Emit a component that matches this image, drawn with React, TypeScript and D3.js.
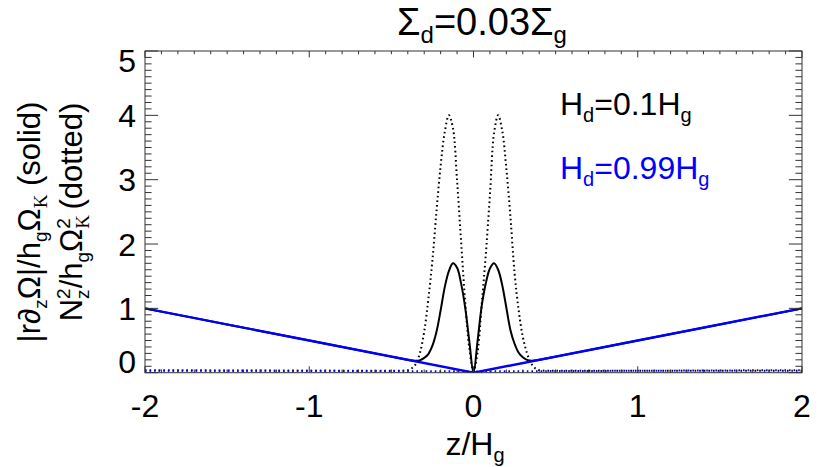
import React from "react";
import * as d3 from "d3";

// z/Hg sample positions
const zPts = [
  -2, -1.5, -1, -0.5, -0.45, -0.4, -0.375, -0.35, -0.325, -0.3, -0.275, -0.25, -0.225, -0.2, -0.175,
  -0.15, -0.125, -0.1, -0.075, -0.05, -0.025, 0, 0.025, 0.05, 0.075, 0.1, 0.125, 0.15, 0.175, 0.2,
  0.225, 0.25, 0.275, 0.3, 0.325, 0.35, 0.375, 0.4, 0.45, 0.5, 1, 1.5, 2,
];
// Hd = 0.1 Hg, |r dz Omega| (solid)
const shearThin = [
  1.0, 0.75, 0.5, 0.25, 0.225, 0.2, 0.19, 0.185, 0.195, 0.23, 0.29, 0.42, 0.64, 0.97, 1.33,
  1.58, 1.7, 1.63, 1.38, 1.0, 0.48, 0.0, 0.5, 1.04, 1.39, 1.62, 1.7, 1.6, 1.36, 1.01,
  0.66, 0.45, 0.31, 0.24, 0.2, 0.185, 0.19, 0.2, 0.225, 0.25, 0.5, 0.75, 1.0,
];
// Hd = 0.1 Hg, Nz^2 (dotted)
const buoyThin = [
  0.03, 0.03, 0.03, 0.03, 0.03, 0.04, 0.07, 0.14, 0.32, 0.64, 1.14, 1.75, 2.52, 3.22, 3.74,
  4.0, 3.8, 2.98, 2.02, 1.08, 0.37, 0.02, 0.32, 1.06, 1.84, 2.76, 3.72, 4.0, 3.76, 3.17,
  2.42, 1.55, 0.97, 0.56, 0.31, 0.15, 0.07, 0.04, 0.03, 0.03, 0.03, 0.03, 0.03,
];
// Hd = 0.99 Hg
const zThick = [-2, -1, 0, 1, 2];
const shearThick = [1.0, 0.5, 0.0, 0.5, 1.0];
const buoyThick = [0.04, 0.03, 0.02, 0.03, 0.04];

const xTicks = [-2, -1, 0, 1, 2];
const yTicks = [0, 1, 2, 3, 4, 5];

const W = 830;
const H = 467;
const m = { left: 145, right: 802, top: 51, bottom: 372.7 };
const FONT = "'Liberation Sans', Arial, Helvetica, sans-serif";

const App = () => {
  const x = d3.scaleLinear().domain([-2, 2]).range([m.left, m.right]);
  const y = d3.scaleLinear().domain([0, 5]).range([m.bottom, m.top]);
  const smooth = d3
    .line<[number, number]>()
    .x((d) => x(d[0]))
    .y((d) => y(d[1]))
    .curve(d3.curveCatmullRom.alpha(0.5));
  const straight = d3
    .line<[number, number]>()
    .x((d) => x(d[0]))
    .y((d) => y(d[1]));
  const pairs = (zs: number[], vs: number[]) => zs.map((z, i) => [z, vs[i]] as [number, number]);

  const plotH = m.bottom - m.top;
  const plotW = m.right - m.left;
  const xMaj = 0.02 * plotH;
  const yMaj = 0.02 * plotW;
  const xMinor = d3.range(-20, 21).map((i) => i / 10);
  const yMinor = d3.range(0, 51).map((i) => i / 10);
  const axisColor = "#333";

  return (
    <svg width={W} height={H} style={{ display: "block", position: "absolute", left: 0, top: 0 }} fontFamily={FONT}>
      <rect width={W} height={H} fill="#fff" />
      <defs>
        <clipPath id="plot">
          <rect x={m.left} y={m.top} width={plotW} height={plotH} />
        </clipPath>
      </defs>

      <g clipPath="url(#plot)" fill="none">
        <path d={smooth(pairs(zPts, shearThin)) || ""} stroke="#000" strokeWidth={2} />
        <path d={smooth(pairs(zPts, buoyThin)) || ""} stroke="#000" strokeWidth={2} strokeDasharray="1.6 3" />
        <path d={straight(pairs(zThick, shearThick)) || ""} stroke="#0000ff" strokeWidth={2.4} />
        <path d={straight(pairs(zThick, buoyThick)) || ""} stroke="#0000ff" strokeWidth={2} strokeDasharray="1.6 3" />
      </g>

      {/* frame and ticks */}
      <g stroke={axisColor} strokeWidth={1} fill="none">
        <rect x={m.left} y={m.top} width={plotW} height={plotH} />
        {xMinor.map((t, i) => {
          const len = Math.abs(t - Math.round(t)) < 1e-9 ? xMaj : xMaj / 2;
          return (
            <g key={"xt" + i}>
              <line x1={x(t)} x2={x(t)} y1={m.bottom} y2={m.bottom - len} />
              <line x1={x(t)} x2={x(t)} y1={m.top} y2={m.top + len} />
            </g>
          );
        })}
        {yMinor.map((t, i) => {
          const len = Math.abs(t - Math.round(t)) < 1e-9 ? yMaj : yMaj / 2;
          return (
            <g key={"yt" + i}>
              <line x1={m.left} x2={m.left + len} y1={y(t)} y2={y(t)} />
              <line x1={m.right} x2={m.right - len} y1={y(t)} y2={y(t)} />
            </g>
          );
        })}
      </g>

      {/* tick labels */}
      <g fontSize={32} fill="#000">
        {xTicks.map((t) => (
          <text key={"xl" + t} x={x(t)} y={417} textAnchor="middle">
            {t}
          </text>
        ))}
        {yTicks.map((t) => {
          let by = y(t) + 11.5;
          if (t === 5) by = m.top + 21;
          if (t === 0) by = m.bottom;
          return (
            <text key={"yl" + t} x={136} y={by} textAnchor="end">
              {t}
            </text>
          );
        })}
      </g>

      {/* title */}
      <text x={482} y={34.5} textAnchor="middle" fontSize={38}>
        Σ<tspan fontSize={24} dy={8}>d</tspan>
        <tspan dy={-8}>=0.03Σ</tspan>
        <tspan fontSize={24} dy={8}>g</tspan>
      </text>

      {/* x title */}
      <text x={475} y={455} textAnchor="middle" fontSize={32}>
        z/H<tspan fontSize={20} dy={7}>g</tspan>
      </text>

      {/* legend */}
      <text x={560} y={114.5} fontSize={32} fill="#000">
        H<tspan fontSize={20} dy={7}>d</tspan>
        <tspan dy={-7}>=0.1H</tspan>
        <tspan fontSize={20} dy={7}>g</tspan>
      </text>
      <text x={560} y={178.5} fontSize={32} fill="#0000ff">
        H<tspan fontSize={20} dy={7}>d</tspan>
        <tspan dy={-7}>=0.99H</tspan>
        <tspan fontSize={20} dy={7}>g</tspan>
      </text>

      {/* y titles */}
      <text transform="translate(40,222) rotate(-90)" textAnchor="middle" fontSize={31}>
        |r∂<tspan fontSize={19} dy={7}>z</tspan>
        <tspan dy={-7}>Ω|/h</tspan>
        <tspan fontSize={19} dy={7}>g</tspan>
        <tspan dy={-7}>Ω</tspan>
        <tspan fontSize={19} dy={7} fontFamily="'Liberation Serif', serif">K</tspan>
        <tspan dy={-7}> (solid)</tspan>
      </text>
      <text transform="translate(82,212) rotate(-90)" textAnchor="middle" fontSize={31}>
        N<tspan fontSize={19} dy={7}>z</tspan>
        <tspan fontSize={19} dx={-9.5} dy={-19}>2</tspan>
        <tspan dy={12}>/h</tspan>
        <tspan fontSize={19} dy={7}>g</tspan>
        <tspan dy={-7}>Ω</tspan>
        <tspan fontSize={19} dy={7} fontFamily="'Liberation Serif', serif">K</tspan>
        <tspan fontSize={19} dx={-13.7} dy={-19}>2</tspan>
        <tspan dy={12}> (dotted)</tspan>
      </text>
    </svg>
  );
};

export default App;
